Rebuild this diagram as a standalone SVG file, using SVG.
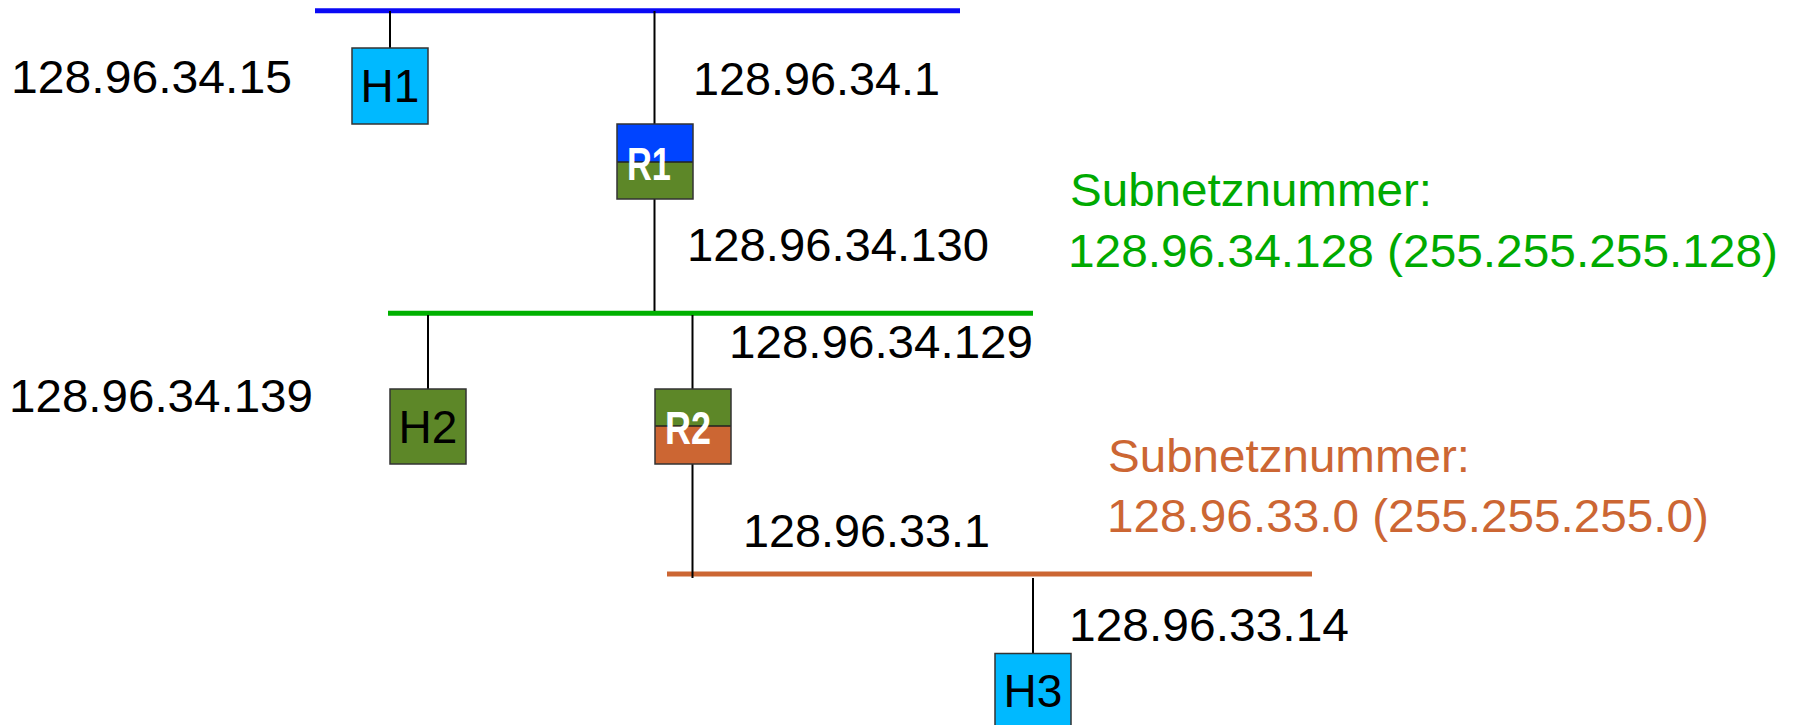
<svg xmlns="http://www.w3.org/2000/svg" width="1794" height="725" viewBox="0 0 1794 725">
<style>
.bg{fill:#ffffff}
.net{fill:none;stroke-width:5}
.stem{stroke:#000;stroke-width:2;fill:none}
.box{stroke:#333;stroke-width:1.5}
.cyan{fill:#00b9ff}
.grn{fill:#5d8728}
.blu{fill:#0044ff}
.org{fill:#cc6633}
.lbl{font-family:"Liberation Sans",Arial,sans-serif;font-size:46px;fill:#000}
.nl{font-family:"Liberation Sans",Arial,sans-serif;font-size:46px;text-anchor:middle;fill:#000}
.rl{font-family:"Liberation Sans",Arial,sans-serif;font-size:46px;font-weight:bold;text-anchor:middle;fill:#fff}
.gt{fill:#00aa00}
.ot{fill:#cc6633}
</style>
<rect class="bg" x="0" y="0" width="1794" height="725"/>
<g id="connectors">
  <line class="net" x1="315" y1="10.7" x2="960" y2="10.7" stroke="#0a0af5"/>
  <line class="net" x1="388" y1="313.3" x2="1033" y2="313.3" stroke="#00b000"/>
  <line class="net" x1="667" y1="574" x2="1312" y2="574" stroke="#cc6633"/>
  <line class="stem" x1="390" y1="11" x2="390" y2="48"/>
  <line class="stem" x1="654.5" y1="11" x2="654.5" y2="124"/>
  <line class="stem" x1="654.5" y1="199" x2="654.5" y2="311"/>
  <line class="stem" x1="428" y1="315" x2="428" y2="389"/>
  <line class="stem" x1="692.5" y1="315" x2="692.5" y2="389"/>
  <line class="stem" x1="692.5" y1="464" x2="692.5" y2="578"/>
  <line class="stem" x1="1033" y1="578" x2="1033" y2="653"/>
</g>
<g id="H1">
  <rect class="box cyan" x="352" y="48" width="76" height="76"/>
  <text class="nl" x="390" y="102">H1</text>
</g>
<g id="R1">
  <rect class="blu" x="617" y="124" width="76" height="38"/>
  <rect class="grn" x="617" y="162" width="76" height="37"/>
  <line x1="617" y1="162" x2="693" y2="162" stroke="#222" stroke-width="1.5"/>
  <rect class="box" fill="none" x="617" y="124" width="76" height="75"/>
  <text class="rl" x="649" y="180" textLength="44" lengthAdjust="spacingAndGlyphs">R1</text>
</g>
<g id="H2">
  <rect class="box grn" x="390" y="389" width="76" height="75"/>
  <text class="nl" x="428" y="443">H2</text>
</g>
<g id="R2">
  <rect class="grn" x="655" y="389" width="76" height="37"/>
  <rect class="org" x="655" y="426" width="76" height="38"/>
  <line x1="655" y1="426" x2="731" y2="426" stroke="#222" stroke-width="1.5"/>
  <rect class="box" fill="none" x="655" y="389" width="76" height="75"/>
  <text class="rl" x="688" y="443.5" textLength="46" lengthAdjust="spacingAndGlyphs">R2</text>
</g>
<g id="H3">
  <rect class="box cyan" x="995" y="653.5" width="76" height="76"/>
  <text class="nl" x="1033" y="707">H3</text>
</g>
<g id="labels">
  <text class="lbl" x="11" y="93" textLength="281" lengthAdjust="spacingAndGlyphs">128.96.34.15</text>
  <text class="lbl" x="693" y="95" textLength="247" lengthAdjust="spacingAndGlyphs">128.96.34.1</text>
  <text class="lbl" x="687" y="261" textLength="302" lengthAdjust="spacingAndGlyphs">128.96.34.130</text>
  <text class="lbl" x="9" y="412" textLength="304" lengthAdjust="spacingAndGlyphs">128.96.34.139</text>
  <text class="lbl" x="729" y="358" textLength="304" lengthAdjust="spacingAndGlyphs">128.96.34.129</text>
  <text class="lbl" x="743" y="547" textLength="247" lengthAdjust="spacingAndGlyphs">128.96.33.1</text>
  <text class="lbl" x="1069" y="641" textLength="280" lengthAdjust="spacingAndGlyphs">128.96.33.14</text>
  <text class="lbl gt" x="1070" y="206" textLength="362" lengthAdjust="spacingAndGlyphs">Subnetznummer:</text>
  <text class="lbl gt" x="1068" y="267" textLength="710" lengthAdjust="spacingAndGlyphs">128.96.34.128 (255.255.255.128)</text>
  <text class="lbl ot" x="1108" y="472" textLength="362" lengthAdjust="spacingAndGlyphs">Subnetznummer:</text>
  <text class="lbl ot" x="1107" y="532" textLength="602" lengthAdjust="spacingAndGlyphs">128.96.33.0 (255.255.255.0)</text>
</g>
</svg>
